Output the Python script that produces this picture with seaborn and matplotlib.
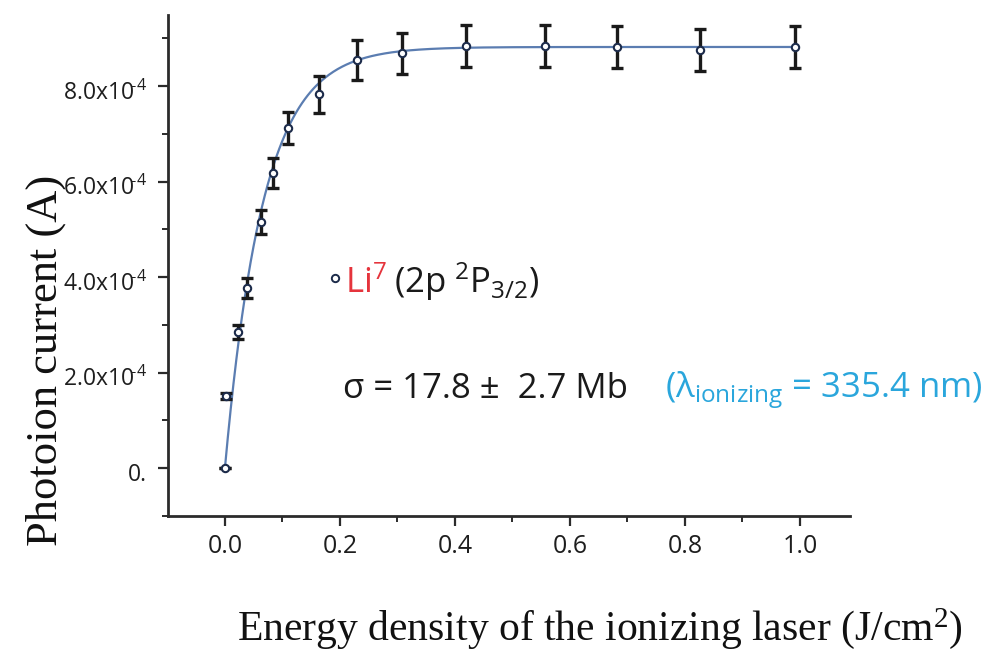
import numpy as np
import pandas as pd
import seaborn as sns
import matplotlib
matplotlib.use("Agg")
import matplotlib.pyplot as plt
from matplotlib.ticker import MultipleLocator, FuncFormatter, FixedLocator
from matplotlib.transforms import ScaledTranslation

# Measured photoion current vs. ionizing-laser energy density (Li-7, 2p 2P3/2)
energy_density = [0.0, 0.002, 0.023, 0.039, 0.063, 0.083, 0.109, 0.164,
                  0.230, 0.308, 0.419, 0.557, 0.682, 0.826, 0.991]
photoion_current = [0.0, 1.51e-4, 2.85e-4, 3.77e-4, 5.15e-4, 6.18e-4, 7.12e-4, 7.83e-4,
                    8.54e-4, 8.69e-4, 8.84e-4, 8.84e-4, 8.82e-4, 8.75e-4, 8.82e-4]
current_error = [0.0, 0.06e-4, 0.15e-4, 0.21e-4, 0.25e-4, 0.31e-4, 0.34e-4, 0.39e-4,
                 0.42e-4, 0.43e-4, 0.44e-4, 0.44e-4, 0.45e-4, 0.44e-4, 0.45e-4]

# Saturation fit parameters
sigma_mb = 17.8            # photoionization cross section (Mb)
sigma_err_mb = 2.7
wavelength_nm = 335.4      # ionizing wavelength
saturation_current = 8.82e-4

x_ticks = [0.0, 0.2, 0.4, 0.6, 0.8, 1.0]
y_ticks = [0.0, 2.0e-4, 4.0e-4, 6.0e-4, 8.0e-4]

df = pd.DataFrame({"F": energy_density, "I": photoion_current, "err": current_error})

# Fit curve: I = I_sat * (1 - exp(-sigma F / (2 h nu)))
h, c = 6.62607e-34, 2.99792e8
photon_energy = h * c / (wavelength_nm * 1e-9)          # J
sigma_cm2 = sigma_mb * 1e-18
f_sat = 2 * photon_energy / sigma_cm2                   # J/cm^2
fit_F = np.linspace(0.0, max(energy_density), 400)
fit_I = saturation_current * (1 - np.exp(-fit_F / f_sat))
fit_df = pd.DataFrame({"F": fit_F, "I": fit_I})

sns.set_theme(style="ticks")
plt.rcParams["font.family"] = ["Open Sans", "DejaVu Sans"]
plt.rcParams["mathtext.default"] = "regular"

fig = plt.figure(figsize=(9.96, 6.53), dpi=100)
ax = fig.add_axes([168 / 996, 1 - 516 / 653, 682 / 996, 501 / 653])

axis_color = "#2b2b2b"
curve_color = "#5b7db1"
marker_edge = "#1c2b4a"

sns.lineplot(data=fit_df, x="F", y="I", ax=ax, color=curve_color, lw=1.6,
             estimator=None, sort=False, zorder=2)
ax.errorbar(df["F"], df["I"], yerr=df["err"], fmt="none", ecolor="#1a1a1a",
            elinewidth=2.4, capsize=4, capthick=2.4, zorder=3)
sns.scatterplot(data=df, x="F", y="I", ax=ax, marker="o", s=28,
                facecolor="white", edgecolor=marker_edge, linewidth=1.5, zorder=4)

ax.set_xlim(-0.099, 1.087)
ax.set_ylim(-1.005e-4, 9.49e-4)

ax.xaxis.set_major_locator(FixedLocator(x_ticks))
ax.xaxis.set_minor_locator(MultipleLocator(0.1))
ax.yaxis.set_major_locator(FixedLocator(y_ticks))
ax.yaxis.set_minor_locator(MultipleLocator(1e-4))
ax.xaxis.set_major_formatter(FuncFormatter(lambda v, p: f"{v:.1f}"))


def sci_label(v, pos):
    if abs(v) < 1e-12:
        return "0."
    return f"{v * 1e4:.1f}x10$^{{\\!\u20104}}$"


ax.yaxis.set_major_formatter(FuncFormatter(sci_label))

for side in ("top", "right"):
    ax.spines[side].set_visible(False)
for side in ("left", "bottom"):
    ax.spines[side].set_linewidth(2.0)
    ax.spines[side].set_color(axis_color)

ax.tick_params(axis="both", which="major", direction="out", length=7, width=1.6,
               color=axis_color, labelsize=18, labelcolor="#1e1e1e")
ax.tick_params(axis="y", which="major", labelsize=16.5, pad=8)
ax.tick_params(axis="both", which="minor", direction="out", length=4, width=1.4,
               color=axis_color)
ax.tick_params(axis="x", which="major", pad=6)

ax.set_xlabel("Energy density of the ionizing laser (J/cm$^2$)",
              family="Liberation Serif", fontsize=30, color="#111111")
ax.set_ylabel("Photoion current (A)", family="Liberation Serif", fontsize=32,
              color="#111111")
ax.xaxis.set_label_coords(0.633, -0.2236)
ax.yaxis.set_label_coords(-0.1795, 0.311)
ax.xaxis.label.set_va("center")
ax.yaxis.label.set_va("center")

# y tick labels sit slightly below their ticks
shift = ScaledTranslation(0, -3 / 72, fig.dpi_scale_trans)
for t in ax.yaxis.get_major_ticks():
    t.label1.set_transform(t.label1.get_transform() + shift)

# Legend-style annotation
ax.scatter([0.191], [3.98e-4], s=28, facecolor="white", edgecolor=marker_edge,
           linewidth=1.4, zorder=4)
ax.text(0.2595, 0.445, "Li$^7$", transform=ax.transAxes, fontsize=25,
        color="#e5343c", va="baseline", ha="left")
ax.text(0.331, 0.445, "(2p $^2$P$_{3/2}$)", transform=ax.transAxes, fontsize=25,
        color="#1a1a1a", va="baseline", ha="left")
ax.text(0.2566, 0.2355, f"\u03c3 = {sigma_mb} \u00b1  {sigma_err_mb} Mb",
        transform=ax.transAxes, fontsize=25, color="#1a1a1a", va="baseline", ha="left")
ax.text(0.7287, 0.2355, f"(\u03bb$_{{ionizing}}$ = {wavelength_nm} nm)",
        transform=ax.transAxes, fontsize=25, color="#2aa6dc", va="baseline", ha="left")

fig.savefig("out.png", dpi=100, facecolor="white")
